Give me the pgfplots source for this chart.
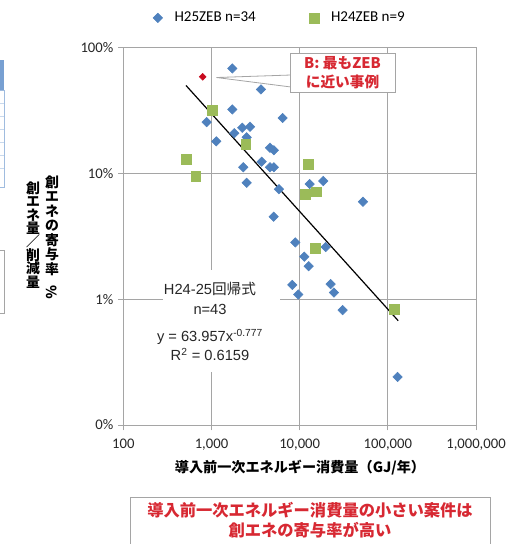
\documentclass[border=0pt]{standalone}
\usepackage{pgfplots}
\pgfplotsset{compat=1.18}
\usepackage{fontspec}
\setmainfont{Carlito}
\newfontfamily\cjk{Noto Sans CJK JP}
\newfontfamily\ls{Liberation Sans}

\definecolor{zebblue}{RGB}{79,129,189}
\definecolor{zebgreen}{RGB}{155,187,89}
\definecolor{zebred}{RGB}{200,10,30}
\definecolor{txtred}{RGB}{215,40,50}
\definecolor{gridgray}{RGB}{165,165,165}
\definecolor{tblblue}{RGB}{120,160,210}

% H25 projects: primary energy before retrofit (GJ/yr), share of on-site generation (%)
\pgfplotstableread{
x y
1722 68.4
3640 46.6
1722 32.3
6410 27.6
882 25.6
2235 23.1
2735 23.5
1815 20.9
2505 19.4
1133 18.0
4605 16.0
5100 15.3
3707 12.4
2296 11.2
4605 11.2
5100 11.2
2505 8.43
12980 8.24
18530 8.7
5825 7.5
52200 5.96
5070 4.53
8920 2.83
19720 2.60
11280 2.18
12650 1.83
8250 1.30
22450 1.32
9640 1.09
24490 1.13
30700 0.82
129000 0.241
}\hdata
% H24 projects
\pgfplotstableread{
x y
1031 31.9
2443 17.0
514 13.0
662 9.5
12420 11.9
11480 6.86
15310 7.16
15030 2.54
117300 0.83
}\gdata

\begin{document}
\begin{tikzpicture}
\path[use as bounding box] (0,0) rectangle (387.75pt,-408pt);
\begin{axis}[
  at={(92.5pt,-318.75pt)}, anchor=south west,
  scale only axis, width=264.5pt, height=283pt,
  xmode=log, ymode=log,
  xmin=100, xmax=1000000, ymin=0.1, ymax=100,
  xtick={100,1000,10000,100000,1000000},
  xticklabels={100,{1,000},{10,000},{100,000},{1,000,000}},
  ytick={0.1,1,10,100},
  yticklabels={0\%,1\%,10\%,100\%},
  xminorticks=false, yminorticks=false,
  grid=major,
  major grid style={draw=gridgray, line width=0.6pt},
  axis line style={draw=gridgray, line width=0.6pt},
  tick style={draw=gridgray, line width=0.6pt},
  tick align=outside, tick pos=left,
  major tick length=4pt,
  tick label style={font=\fontsize{11}{13}\selectfont, text=black!85},
  xticklabel style={yshift=-3pt},
  legend style={at={(0.445,1.079)}, anchor=center, draw=none, fill=none,
    legend columns=2, font=\fontsize{11.3}{13}\selectfont,
    /tikz/every odd column/.append style={column sep=7pt},
    /tikz/every even column/.append style={column sep=38pt}},
  legend cell align=left,
]
\addplot[only marks, mark=square*, mark size=2.5pt, color=zebblue,
  mark options={rotate=45}] table {\hdata};
\addlegendentry{H25ZEB n=34}
\addplot[only marks, mark=square*, mark size=3.7pt, color=zebgreen] table {\gdata};
\addlegendentry{H24ZEB n=9}
% project B, closest to ZEB
\addplot[only marks, mark=square*, mark size=1.8pt, color=zebred,
  mark options={rotate=45}, forget plot] coordinates {(795,58.7)};
% power-law fit y = 63.957 x^-0.777
\addplot[black, line width=0.9pt, forget plot] coordinates {(514,50.06) (131200,0.675)};
\fill[white] (rel axis cs:0.1126,0.1405) rectangle (rel axis cs:0.4443,0.4108);
\node[align=center, font=\ls\fontsize{11}{14.5}\selectfont, text=black!85]
  at (rel axis cs:0.2458,0.274)
  {H24-25{\cjk 回帰式}\\n=43\\[6pt]y = 63.957x\textsuperscript{-0.777}\\R\textsuperscript{2} = 0.6159};
\end{axis}
\begin{scope}[x=0.75pt,y=-0.75pt]
  % callout for project B
  \filldraw[fill=white, draw=gridgray, line width=0.6pt]
    (216.5,77.5) -- (291,75) -- (291,87) -- cycle;
  \filldraw[fill=white, draw=gridgray, line width=0.6pt] (290,53) rectangle (395,92);
  \fill[white] (291.5,75.6) rectangle (293,86.4);
  \node[text=txtred, align=center, font=\cjk\bfseries\fontsize{11}{14}\selectfont]
    at (342.5,73) {B: 最もZEB\\に近い事例};
  % y-axis title, vertical writing (one glyph per position)
  \foreach \px/\py/\c in {52/182/創, 52/196.5/エ, 52/211/ネ, 52/225.5/の,
      52/240/寄, 52/254.5/与, 52/269/率,
      33/188/創, 33/201.4/エ, 33/214.8/ネ, 33/228.2/量, 33/241.6/／,
      33/255/削, 33/268.4/減, 33/281.8/量}
    \node[inner sep=0pt, font=\cjk\bfseries\fontsize{10.4}{12}\selectfont]
      at (\px,\py) {\c};
  \node[inner sep=0pt, rotate=-90, font=\cjk\bfseries\fontsize{10.4}{12}\selectfont]
    at (52,292) {\%};
  % x-axis title
  \node[font=\cjk\bfseries\fontsize{10.6}{12}\selectfont] at (300,468) {導入前一次エネルギー消費量（GJ/年）};
  % conclusion box
  \draw[gridgray, line width=0.6pt] (130,560) -- (130,497) -- (490,497) -- (490,560);
  \node[text=txtred, align=center, font=\cjk\bfseries\fontsize{12.2}{15}\selectfont]
    at (310,520) {導入前一次エネルギー消費量の小さい案件は\\創エネの寄与率が高い};
  % neighbouring panel edges
  \fill[tblblue] (-1,60) rectangle (4,90);
  \draw[tblblue!70, line width=0.6pt] (-1,90) -- (4,90) -- (4,187) -- (-1,187);
  \foreach \r in {103,116,129,142,155,168} \draw[tblblue!40, line width=0.4pt] (-1,\r) -- (4,\r);
  \draw[gridgray, line width=0.6pt] (-1,250) -- (4,250) -- (4,313) -- (-1,313);
\end{scope}
\end{tikzpicture}
\end{document}
